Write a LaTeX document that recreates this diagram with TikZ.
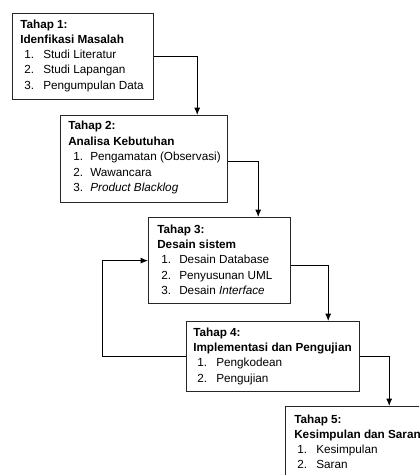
\documentclass[tikz,border=0pt]{standalone}
\usepackage{fontspec}
\setmainfont{Liberation Sans}
\usetikzlibrary{arrows.meta,calc}
\begin{document}
\begin{tikzpicture}[x=0.75pt,y=-0.75pt,
  stagebox/.style={draw=black!85,line width=0.9pt,fill=white,inner sep=0pt,anchor=north west},
  txt/.style={inner sep=0pt,anchor=base west,font=\fontsize{8.8}{10.5}\selectfont},
  conn/.style={draw=black,line width=0.75pt,-{Latex[length=5.5pt,width=4.5pt]}}]
\path[use as bounding box,fill=white] (0,0) rectangle (419,475);
\clip (0,0) rectangle (419,475);
% boxes
\node[stagebox,minimum width=141*0.75pt,minimum height=86*0.75pt] (b1) at (12,13) {};
\node[stagebox,minimum width=167*0.75pt,minimum height=87*0.75pt] (b2) at (60,115) {};
\node[stagebox,minimum width=142*0.75pt,minimum height=86*0.75pt] (b3) at (148,217) {};
\node[stagebox,minimum width=173*0.75pt,minimum height=70*0.75pt] (b4) at (186,321) {};
\node[stagebox,minimum width=150*0.75pt,minimum height=90*0.75pt] (b5) at (285,406) {};
% box 1 text
\node[txt] (t1a) at (20,28) {\textbf{Tahap 1:}};
\node[txt] (t1b) at (20,43) {\textbf{Idenfikasi Masalah}};
\node[txt] (t1n1) at (24,58) {1.};
\node[txt] (t1i1) at (43,58) {Studi Literatur};
\node[txt] (t1n2) at (24,73) {2.};
\node[txt] (t1i2) at (43,73) {Studi Lapangan};
\node[txt] (t1n3) at (24,89) {3.};
\node[txt] (t1i3) at (43,89) {Pengumpulan Data};
% box 2 text
\node[txt] (t2a) at (68,129) {\textbf{Tahap 2:}};
\node[txt] (t2b) at (68,145) {\textbf{Analisa Kebutuhan}};
\node[txt] (t2n1) at (73,160) {1.};
\node[txt] (t2i1) at (90,160) {Pengamatan (Observasi)};
\node[txt] (t2n2) at (73,176) {2.};
\node[txt] (t2i2) at (90,176) {Wawancara};
\node[txt] (t2n3) at (73,191) {3.};
\node[txt] (t2i3) at (90,191) {\textit{Product Blacklog}};
% box 3 text
\node[txt] (t3a) at (157,233) {\textbf{Tahap 3:}};
\node[txt] (t3b) at (157,248) {\textbf{Desain sistem}};
\node[txt] (t3n1) at (161,263) {1.};
\node[txt] (t3i1) at (179,263) {Desain Database};
\node[txt] (t3n2) at (161,279) {2.};
\node[txt] (t3i2) at (179,279) {Penyusunan UML};
\node[txt] (t3n3) at (161,294) {3.};
\node[txt] (t3i3) at (179,294) {Desain \textit{Interface}};
% box 4 text
\node[txt] (t4a) at (193,336) {\textbf{Tahap 4:}};
\node[txt] (t4b) at (193,351) {\textbf{Implementasi dan Pengujian}};
\node[txt] (t4n1) at (197,366) {1.};
\node[txt] (t4i1) at (216,366) {Pengkodean};
\node[txt] (t4n2) at (197,382) {2.};
\node[txt] (t4i2) at (216,382) {Pengujian};
% box 5 text
\node[txt] (t5a) at (294,423) {\textbf{Tahap 5:}};
\node[txt] (t5b) at (294,438) {\textbf{Kesimpulan dan Saran}};
\node[txt] (t5n1) at (297,453) {1.};
\node[txt] (t5i1) at (316,453) {Kesimpulan};
\node[txt] (t5n2) at (297,468) {2.};
\node[txt] (t5i2) at (316,468) {Saran};
% connectors
\draw[conn] (b1.east) -- ++(43,0) coordinate (c1) -- (c1 |- b2.north);
\draw[conn] ($(b2.east)+(0,2)$) -- ++(30,0) coordinate (c2) -- (c2 |- b3.north);
\draw[conn] ($(b3.east)+(0,5)$) -- ++(37,0) coordinate (c3) -- (c3 |- b4.north);
\draw[conn] (b4.west) -- ++(-84,0) coordinate (c4) |- (b3.west);
\draw[conn] (b4.east) -- ++(29,0) coordinate (c5) -- (c5 |- b5.north);
\end{tikzpicture}
\end{document}
